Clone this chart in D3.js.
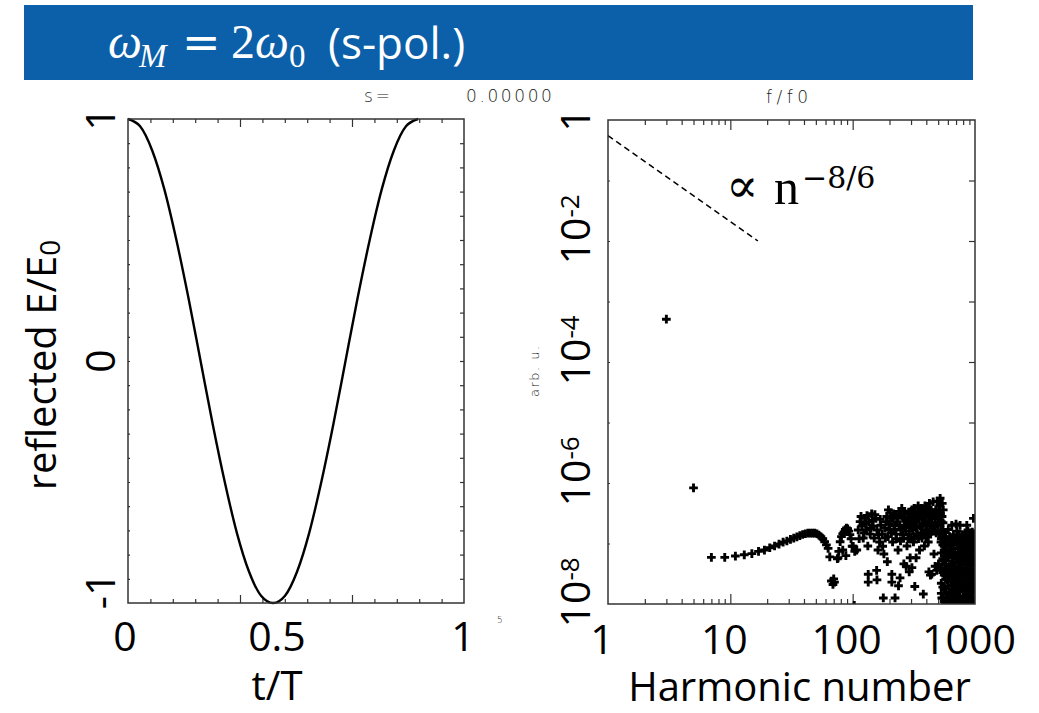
<!DOCTYPE html>
<html>
<head>
<meta charset="utf-8">
<script src="https://cdn.jsdelivr.net/npm/d3@7"></script>
<style>
  body { margin: 0; background: #fff; }
  svg { display: block; }
</style>
</head>
<body>
<div id="chart"></div>
<script>
// ---- data ----

// left panel: reflected field over one cycle (t in units of the plot's own x axis)
const waveT = [0, 0.054, 0.108, 0.162, 0.216, 0.27, 0.324, 0.378, 0.432, 0.486, 0.54, 0.594, 0.648,
               0.701, 0.755, 0.809, 0.863, 0.917, 0.971, 1.025, 1.079, 1.133, 1.187, 1.241, 1.295];
const waveE = [1, 0.97, 0.87, 0.71, 0.5, 0.26, 0, -0.26, -0.5, -0.71, -0.87, -0.97, -1,
               -0.97, -0.87, -0.71, -0.5, -0.26, 0, 0.26, 0.5, 0.71, 0.87, 0.97, 1];
const tTickLabels = ["0", "0.5", "1"];
const eTickValues = [1, 0, -1];

// right panel: harmonic spectrum [harmonic number, amplitude]
const lowHarmonics = [[3, 5.1e-4], [5, 8.3e-7]];
const plateau = [
  [7, 5.9e-8], [9, 5.9e-8], [11, 6.2e-8], [13, 6.5e-8], [15, 6.8e-8], [17, 7.4e-8], [19, 7.8e-8],
  [21, 8.5e-8], [23, 9.1e-8], [25, 9.8e-8], [27, 1.05e-7], [29, 1.1e-7], [31, 1.17e-7], [33, 1.23e-7],
  [35, 1.29e-7], [37, 1.35e-7], [39, 1.41e-7], [41, 1.45e-7], [43, 1.48e-7], [45, 1.48e-7],
  [47, 1.48e-7], [49, 1.48e-7], [51, 1.45e-7], [53, 1.38e-7], [55, 1.29e-7], [57, 1.2e-7],
  [59, 1.07e-7], [61, 9.5e-8], [63, 8.3e-8], [65, 6.0e-8]
];
const transition = [
  [67, 2.4e-8], [69, 2.1e-8], [70, 2.6e-8], [71, 2.3e-8], [75, 5.6e-8], [76, 5.8e-8], [77, 7.4e-8],
  [79, 1.07e-7], [81, 1.3e-7], [83, 1.45e-7], [85, 1.55e-7], [87, 1.7e-7], [89, 1.8e-7], [91, 1.75e-7],
  [93, 1.6e-7], [95, 1.4e-7], [97, 1.2e-7], [99, 9.0e-8], [83, 7.8e-8], [88, 6.3e-8]
];
const midCluster = [
  [101, 9.0e-8], [103, 9.5e-9], [104, 7.4e-8], [108, 7.8e-8], [111, 1.67e-7], [115, 2.3e-7],
  [119, 1.95e-7], [122, 1.23e-7], [126, 2.6e-7], [129, 1.67e-7], [133, 9.1e-8], [136, 2.3e-7],
  [139, 1.43e-7], [143, 3.1e-7], [147, 1.95e-7], [150, 1.23e-7], [155, 2.6e-7], [158, 1.67e-7],
  [161, 7.8e-8], [166, 1.06e-7], [170, 2.0e-7], [174, 1.43e-7],
  [134, 3.1e-8], [134, 2.3e-8], [157, 3.6e-8], [158, 2.5e-8], [178, 1.26e-8],
  [180, 6.7e-8], [185, 1.23e-7], [188, 2.3e-7], [192, 5.0e-8], [196, 3.6e-7], [200, 1.67e-7],
  [205, 2.6e-7], [209, 3.1e-8], [209, 2.3e-8], [212, 1.06e-7], [216, 3.1e-7], [220, 1.95e-7],
  [222, 1.26e-8], [226, 1.43e-7], [230, 2.3e-7], [235, 7.8e-8], [237, 2.0e-8], [240, 3.4e-7],
  [244, 2.7e-8], [248, 1.67e-7], [252, 3.8e-7], [256, 2.6e-7], [260, 1.23e-7], [262, 4.6e-8],
  [265, 3.4e-7], [270, 1.95e-7], [274, 4.2e-8], [278, 9.1e-8], [282, 3.1e-7], [286, 2.3e-7],
  [290, 1.43e-7], [290, 3.4e-8], [295, 5.8e-8], [300, 2.6e-7],
  [305, 3.6e-7], [305, 4.0e-8], [310, 1.67e-7], [314, 1.06e-7], [318, 3.8e-7], [322, 1.95e-8],
  [325, 2.3e-7], [330, 5.8e-8], [334, 3.1e-7], [338, 1.43e-7], [343, 4.2e-7], [348, 2.6e-7],
  [352, 7.8e-8], [356, 1.95e-7], [360, 3.4e-7], [365, 3.8e-7], [369, 1.23e-7], [374, 2.6e-7],
  [378, 1.46e-8], [382, 3.1e-7], [386, 9.1e-8], [390, 4.2e-7], [395, 1.67e-7], [400, 2.3e-7],
  [405, 3.8e-7], [410, 3.1e-7], [415, 1.06e-7], [420, 3.4e-8], [424, 4.6e-7], [428, 2.0e-7],
  [432, 3.0e-8], [434, 1.43e-7], [438, 3.6e-7], [443, 3.1e-8], [448, 2.6e-7], [455, 4.9e-7],
  [462, 6.7e-8], [470, 1.95e-7], [472, 4.2e-8], [478, 3.6e-7], [487, 3.6e-8], [492, 5.0e-7],
  [500, 2.6e-7], [503, 4.6e-8], [508, 1.43e-7], [515, 4.2e-7], [519, 5.6e-7], [522, 3.1e-7],
  [527, 1.06e-7], [530, 2.3e-7], [535, 1.26e-8], [540, 4.6e-7], [545, 1.67e-7], [550, 3.6e-7],
  [646, 2.0e-7], [700, 2.1e-7], [755, 2.0e-7], [857, 2.0e-7], [971, 2.6e-7],
  [113, 1.2e-7], [117, 2.8e-7], [124, 1.5e-7], [128, 2.1e-7], [131, 2.9e-7], [141, 1.8e-7],
  [145, 2.4e-7], [152, 3.0e-7], [163, 1.4e-7], [168, 2.5e-7], [176, 9.0e-8], [183, 1.8e-7],
  [190, 2.8e-7], [194, 1.3e-7], [198, 2.1e-7], [203, 3.2e-7], [207, 1.5e-7], [214, 2.6e-7],
  [218, 1.7e-7], [224, 3.0e-7], [228, 1.2e-7], [233, 2.7e-7], [242, 2.0e-7], [246, 1.1e-7],
  [250, 3.0e-7], [254, 1.8e-7], [258, 1.4e-7], [268, 2.7e-7], [272, 1.6e-7], [280, 2.2e-7],
  [284, 1.2e-7], [288, 3.3e-7], [293, 2.0e-7], [297, 1.2e-7], [302, 1.8e-7], [308, 2.8e-7],
  [316, 2.2e-7], [320, 1.3e-7], [328, 3.0e-7], [332, 1.8e-7], [340, 2.5e-7], [345, 1.2e-7],
  [350, 3.2e-7], [358, 2.8e-7], [362, 1.5e-7], [372, 2.0e-7], [376, 3.3e-7], [380, 1.4e-7],
  [388, 2.2e-7], [392, 3.0e-7], [398, 1.3e-7], [402, 3.2e-7], [408, 2.0e-7], [412, 1.5e-7],
  [418, 2.7e-7], [426, 3.2e-7], [440, 2.2e-7], [445, 1.6e-7], [452, 3.2e-7], [458, 1.9e-7],
  [465, 3.0e-7], [475, 2.6e-7], [482, 1.5e-7], [490, 3.2e-7], [496, 2.0e-7], [505, 3.6e-7],
  [512, 2.2e-7], [525, 1.6e-7], [538, 2.8e-7], [548, 2.2e-7]
];
const denseTail = [
  [530, 1.5e-8], [530, 2.2e-8], [530, 4.0e-8], [530, 7.0e-8], [530, 1.2e-7],
  [545, 1.25e-8], [545, 1.9e-8], [545, 3.3e-8], [545, 5.6e-8], [545, 9.5e-8], [545, 1.6e-7],
  [560, 1.1e-8], [560, 1.8e-8], [560, 3.0e-8], [560, 5.2e-8], [560, 9.0e-8], [560, 1.5e-7],
  [575, 1.05e-8], [575, 1.5e-8], [575, 2.6e-8], [575, 4.4e-8], [575, 7.6e-8], [575, 1.3e-7],
  [590, 1.3e-8], [590, 2.5e-8], [590, 3.8e-8], [590, 6.5e-8], [590, 1.1e-7],
  [605, 1.2e-8], [605, 2.0e-8], [605, 3.5e-8], [605, 6.0e-8], [605, 1.0e-7], [605, 1.7e-7],
  [620, 1.05e-8], [620, 1.6e-8], [620, 2.8e-8], [620, 4.6e-8], [620, 8.0e-8], [620, 1.3e-7],
  [635, 1.4e-8], [635, 2.4e-8], [635, 4.0e-8], [635, 6.8e-8], [635, 1.15e-7],
  [650, 1.2e-8], [650, 2.0e-8], [650, 3.4e-8], [650, 5.8e-8], [650, 1.0e-7],
  [665, 1.05e-8], [665, 1.7e-8], [665, 2.9e-8], [665, 4.9e-8], [665, 8.4e-8], [665, 1.4e-7],
  [680, 1.1e-8], [680, 1.5e-8], [680, 2.4e-8], [680, 4.1e-8], [680, 7.0e-8], [680, 1.2e-7],
  [695, 1.25e-8], [695, 1.9e-8], [695, 3.6e-8], [695, 6.2e-8], [695, 1.05e-7],
  [710, 1.3e-8], [710, 2.1e-8], [710, 3.2e-8], [710, 5.5e-8], [710, 9.5e-8], [710, 1.6e-7],
  [725, 1.1e-8], [725, 1.6e-8], [725, 2.6e-8], [725, 4.3e-8], [725, 7.2e-8], [725, 1.2e-7],
  [740, 1.1e-8], [740, 1.7e-8], [740, 2.9e-8], [740, 4.8e-8], [740, 8.2e-8], [740, 1.35e-7],
  [755, 1.35e-8], [755, 2.3e-8], [755, 3.9e-8], [755, 6.6e-8], [755, 1.1e-7],
  [770, 1.2e-8], [770, 2.2e-8], [770, 3.6e-8], [770, 6.0e-8], [770, 1.05e-7],
  [785, 1.1e-8], [785, 1.8e-8], [785, 3.0e-8], [785, 5.1e-8], [785, 8.6e-8], [785, 1.4e-7],
  [800, 1.05e-8], [800, 1.6e-8], [800, 2.6e-8], [800, 4.4e-8], [800, 7.4e-8], [800, 1.25e-7],
  [815, 1.2e-8], [815, 2.1e-8], [815, 3.5e-8], [815, 6.1e-8], [815, 1.0e-7],
  [830, 1.3e-8], [830, 2.0e-8], [830, 3.3e-8], [830, 5.6e-8], [830, 9.6e-8], [830, 1.5e-7],
  [845, 1.05e-8], [845, 1.6e-8], [845, 2.7e-8], [845, 4.5e-8], [845, 7.8e-8], [845, 1.3e-7],
  [860, 1.1e-8], [860, 1.8e-8], [860, 3.0e-8], [860, 5.0e-8], [860, 8.5e-8], [860, 1.4e-7],
  [875, 1.3e-8], [875, 2.2e-8], [875, 3.8e-8], [875, 6.5e-8], [875, 1.1e-7], [875, 1.6e-7],
  [890, 1.25e-8], [890, 2.3e-8], [890, 3.7e-8], [890, 6.3e-8], [890, 1.1e-7],
  [905, 1.1e-8], [905, 1.8e-8], [905, 3.1e-8], [905, 5.3e-8], [905, 9.0e-8], [905, 1.5e-7],
  [920, 1.05e-8], [920, 1.6e-8], [920, 2.7e-8], [920, 4.5e-8], [920, 7.6e-8], [920, 1.3e-7],
  [935, 1.2e-8], [935, 2.0e-8], [935, 3.5e-8], [935, 5.9e-8], [935, 1.0e-7],
  [950, 1.3e-8], [950, 2.1e-8], [950, 3.4e-8], [950, 5.7e-8], [950, 9.8e-8], [950, 1.55e-7],
  [965, 1.05e-8], [965, 1.7e-8], [965, 2.8e-8], [965, 4.7e-8], [965, 8.0e-8], [965, 1.35e-7],
  [980, 1.1e-8], [980, 1.9e-8], [980, 3.1e-8], [980, 5.2e-8], [980, 8.8e-8], [980, 1.45e-7],
  [995, 1.3e-8], [995, 2.2e-8], [995, 3.7e-8], [995, 6.4e-8], [995, 1.1e-7]
];
// guide line for the power law
const slopeN = [1, 16.8];
const slopeAmp = [0.55, 0.01];
const nTickValues = [1, 10, 100, 1000];
const ampTickExp = [0, -2, -4, -6, -8];

// ---- drawing ----
const W = 1039, H = 713;
const SANS = "'Open Sans', sans-serif";
const SERIF = "'Liberation Serif', 'DejaVu Serif', serif";
const FRAME = "#333";

const svg = d3.select("#chart").append("svg")
    .attr("width", W)
    .attr("height", H);

// title bar
svg.append("rect")
    .attr("x", 24).attr("y", 5)
    .attr("width", 949).attr("height", 75)
    .attr("fill", "#0c5fa9");

function titlePiece(x, y, str, size, family, italic) {
  svg.append("text")
      .attr("x", x).attr("y", y)
      .attr("fill", "#fff")
      .attr("font-family", family)
      .attr("font-size", size)
      .attr("font-style", italic ? "italic" : "normal")
      .text(str);
}
titlePiece(108, 58, "ω", 48, SERIF, true);
titlePiece(139, 67, "M", 33, SERIF, true);
titlePiece(182, 58, "=", 46, "'DejaVu Serif', serif", false);
titlePiece(231, 58, "2", 48, SERIF, false);
titlePiece(255, 58, "ω", 48, SERIF, true);
titlePiece(289, 67, "0", 33, SERIF, false);
titlePiece(328, 59, "(s-pol.)", 44, SANS, false);

// small plot annotations left over from the original figure
function smallText(x, y, str, size, extra) {
  return svg.append("text")
      .attr("x", x).attr("y", y)
      .attr("font-family", "'DejaVu Sans', sans-serif")
      .attr("font-weight", 300)
      .attr("font-size", size)
      .attr("fill", "#222")
      .attr("letter-spacing", extra)
      .text(str);
}
smallText(364, 102, "s=", 17, 3);
smallText(466, 102, "0.00000", 17, 2.6);
smallText(766, 103, "f/f0", 17, 4.5);
smallText(497, 623, "5", 9, 0);
smallText(0, 0, "arb. u.", 13, 1.5)
    .attr("transform", "translate(539,397) rotate(-90)");

function tickAxis(g, axis, tf) {
  const a = g.append("g").attr("transform", tf).call(axis);
  a.select(".domain").remove();
  a.selectAll("line").attr("stroke", FRAME).attr("stroke-width", 1.2);
  a.selectAll("text").remove();
  return a;
}

// ---------- left panel ----------
const L = { x0: 128, x1: 464, y0: 119, y1: 603 };
const tx = d3.scaleLinear().domain([0, 1.5]).range([L.x0, L.x1]);
const ey = d3.scaleLinear().domain([-1, 1]).range([L.y1, L.y0]);
const gL = svg.append("g");

const tMinor = d3.range(1, 15).filter(i => i % 5).map(i => i / 10);
const tMajor = [0.5, 1.0];
tickAxis(gL, d3.axisTop(tx).tickValues(tMinor).tickSize(-4), `translate(0,${L.y0})`);
tickAxis(gL, d3.axisTop(tx).tickValues(tMajor).tickSize(-8), `translate(0,${L.y0})`);
tickAxis(gL, d3.axisBottom(tx).tickValues(tMinor).tickSize(-4), `translate(0,${L.y1})`);
tickAxis(gL, d3.axisBottom(tx).tickValues(tMajor).tickSize(-8), `translate(0,${L.y1})`);
const eMinor = d3.range(-9, 10).map(i => i / 10);
tickAxis(gL, d3.axisLeft(ey).tickValues(eMinor).tickSize(-2), `translate(${L.x0},0)`);
tickAxis(gL, d3.axisRight(ey).tickValues(eMinor).tickSize(-4), `translate(${L.x1},0)`);

const wave = d3.line()
    .x((d, i) => tx(waveT[i]))
    .y(d => ey(d))
    .curve(d3.curveMonotoneX);
gL.append("path")
    .datum(waveE)
    .attr("d", wave)
    .attr("fill", "none")
    .attr("stroke", "#000")
    .attr("stroke-width", 2.4);

gL.append("rect")
    .attr("x", L.x0).attr("y", L.y0)
    .attr("width", L.x1 - L.x0).attr("height", L.y1 - L.y0)
    .attr("fill", "none")
    .attr("stroke", FRAME)
    .attr("stroke-width", 1.5);

// hand-placed overlay labels: 0 at the left edge, 0.5 at the minimum, 1 at the right edge
const tLabelX = d3.scaleLinear().domain([0, 0.5, 1]).range([tx(0) - 3, tx(0.665), tx(1.5) - 1]);
gL.selectAll(".tlab")
    .data(tTickLabels)
    .join("text")
    .attr("class", "tlab")
    .attr("x", d => tLabelX(+d))
    .attr("y", 651)
    .attr("text-anchor", "middle")
    .attr("font-family", SANS)
    .attr("font-size", 41)
    .text(d => d);

gL.selectAll(".elab")
    .data(eTickValues)
    .join("text")
    .attr("class", "elab")
    .attr("transform", d => `translate(115,${ey(d) - (d < 0 ? 12 : 0)}) rotate(-90)`)
    .attr("text-anchor", "middle")
    .attr("font-family", SANS)
    .attr("font-size", 41)
    .text(d => d);

gL.append("text")
    .attr("x", tLabelX(0.5))
    .attr("y", 700)
    .attr("text-anchor", "middle")
    .attr("font-family", SANS)
    .attr("font-size", 40)
    .text("t/T");

const yTitle = gL.append("text")
    .attr("transform", `translate(56,${(L.y0 + L.y1) / 2 + 4}) rotate(-90)`)
    .attr("text-anchor", "middle")
    .attr("font-family", SANS)
    .attr("font-size", 40);
yTitle.append("tspan").text("reflected E/E");
yTitle.append("tspan").attr("font-size", 28).attr("dy", 4).text("0");

// ---------- right panel ----------
const R = { x0: 608, x1: 975, y0: 120, y1: 604 };
const nx = d3.scaleLog().domain([1, 1000]).range([R.x0, R.x1]);
const ay = d3.scaleLog().domain([1e-8, 1]).range([R.y1, R.y0]);
const gR = svg.append("g");

const nMinor = [];
[1, 10, 100].forEach(dec => d3.range(2, 10).forEach(k => nMinor.push(k * dec)));
const nMajor = [10, 100];
tickAxis(gR, d3.axisTop(nx).tickValues(nMinor).tickSize(-5), `translate(0,${R.y0})`);
tickAxis(gR, d3.axisTop(nx).tickValues(nMajor).tickSize(-10), `translate(0,${R.y0})`);
tickAxis(gR, d3.axisBottom(nx).tickValues(nMinor).tickSize(-5), `translate(0,${R.y1})`);
tickAxis(gR, d3.axisBottom(nx).tickValues(nMajor).tickSize(-10), `translate(0,${R.y1})`);
const aTicks = d3.range(-7, 0).map(e => Math.pow(10, e));
tickAxis(gR, d3.axisLeft(ay).tickValues(aTicks).tickSize(-2), `translate(${R.x0},0)`);
tickAxis(gR, d3.axisRight(ay).tickValues(aTicks).tickSize(-6), `translate(${R.x1},0)`);

svg.append("clipPath").attr("id", "clipR")
  .append("rect")
    .attr("x", R.x0).attr("y", R.y0)
    .attr("width", R.x1 - R.x0).attr("height", R.y1 - R.y0);

const allHarmonics = lowHarmonics.concat(plateau, transition, midCluster, denseTail);
const cross = d3.symbol().type(d3.symbolCross).size(42);
gR.append("g")
    .attr("clip-path", "url(#clipR)")
  .selectAll("path")
    .data(allHarmonics)
    .join("path")
    .attr("transform", d => `translate(${nx(d[0])},${ay(d[1])})`)
    .attr("d", cross)
    .attr("fill", "#000");

gR.append("path")
    .datum(slopeN.map((n, i) => [n, slopeAmp[i]]))
    .attr("d", d3.line().x(d => nx(d[0])).y(d => ay(d[1])))
    .attr("fill", "none")
    .attr("stroke", "#000")
    .attr("stroke-width", 1.5)
    .attr("stroke-dasharray", "6,4");

gR.append("rect")
    .attr("x", R.x0).attr("y", R.y0)
    .attr("width", R.x1 - R.x0).attr("height", R.y1 - R.y0)
    .attr("fill", "none")
    .attr("stroke", FRAME)
    .attr("stroke-width", 1.5);

// power-law annotation
gR.append("text")
    .attr("x", 726).attr("y", 202)
    .attr("font-family", "'DejaVu Serif', serif")
    .attr("font-size", 48)
    .text("∝");
gR.append("text")
    .attr("x", 774).attr("y", 204)
    .attr("font-family", SERIF)
    .attr("font-size", 50)
    .text("n");
gR.append("text")
    .attr("x", 802).attr("y", 188)
    .attr("font-family", "'DejaVu Serif', serif")
    .attr("font-size", 30)
    .text("−8/6");

gR.selectAll(".nlab")
    .data(nTickValues)
    .join("text")
    .attr("class", "nlab")
    .attr("x", d => nx(d) - 6)
    .attr("y", 654)
    .attr("text-anchor", "middle")
    .attr("font-family", SANS)
    .attr("font-size", 41)
    .text(d => d);

gR.append("text")
    .attr("x", (R.x0 + R.x1) / 2 + 8)
    .attr("y", 701)
    .attr("text-anchor", "middle")
    .attr("font-family", SANS)
    .attr("font-size", 40)
    .text("Harmonic number");

ampTickExp.forEach(e => {
  const g = gR.append("g")
      .attr("transform", `translate(590,${ay(Math.pow(10, e))}) rotate(-90)`);
  const t = g.append("text")
      .attr("font-family", SANS)
      .attr("font-size", 41);
  if (e === 0) {
    t.attr("text-anchor", "middle").text("1");
    return;
  }
  const base = t.append("tspan").text("10");
  t.append("tspan").attr("font-size", 26).attr("dy", -11).text(String(e));
  const w = base.node().getComputedTextLength();
  t.attr("x", -w / 2);
});
</script>
</body>
</html>
